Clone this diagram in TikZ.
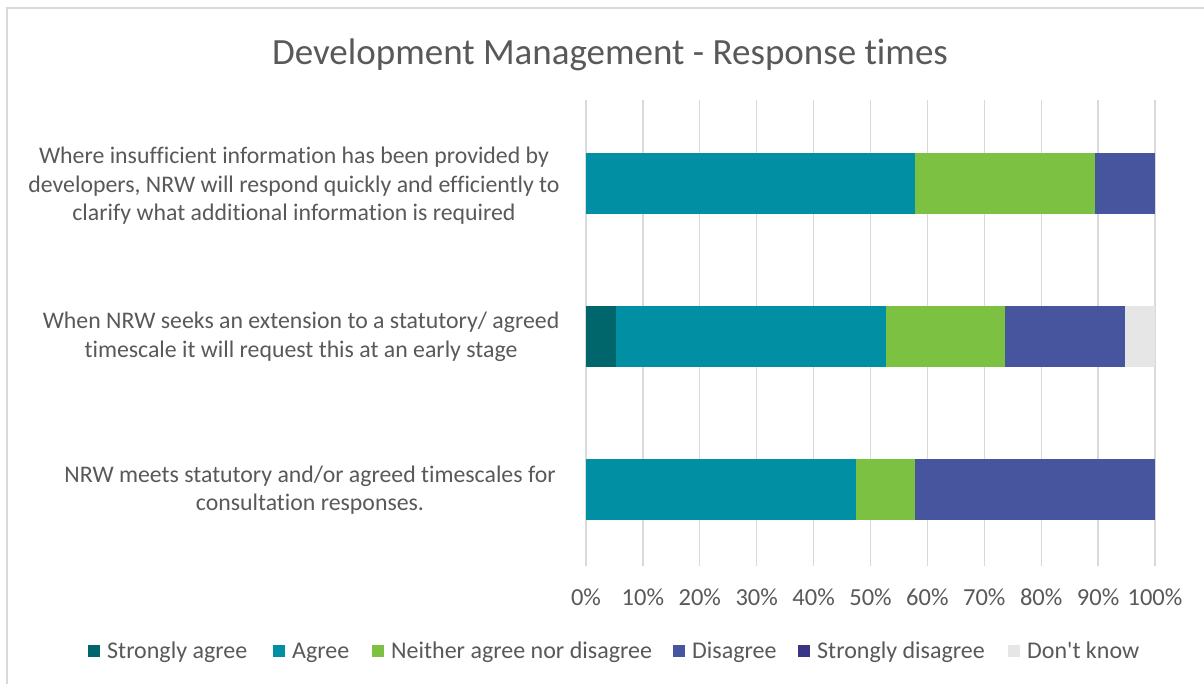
\documentclass[tikz,border=0pt]{standalone}
\usepackage{fontspec}
\defaultfontfeatures{}
\setmainfont{Carlito}[Ligatures=NoCommon]
\definecolor{txt}{HTML}{595959}
\definecolor{grid}{HTML}{D9D9D9}
\definecolor{sagree}{HTML}{00666B}
\definecolor{agree}{HTML}{008FA3}
\definecolor{neither}{HTML}{7DC142}
\definecolor{disagree}{HTML}{47559E}
\definecolor{sdisagree}{HTML}{3B3586}
\definecolor{dk}{HTML}{E6E6E6}
\tikzset{
  lbl/.style={text=txt,align=center,font=\fontsize{23.8}{28.5}\selectfont,inner sep=0pt},
  ax/.style={text=txt,font=\fontsize{24.5}{28}\selectfont,inner sep=0pt},
  leg/.style={text=txt,font=\fontsize{24}{28}\selectfont,inner sep=0pt,anchor=base west},
  gridline/.style={draw=grid,line width=1.3pt}
}
\begin{document}
\begin{tikzpicture}[x=1pt,y=-1pt]
\useasboundingbox (0,0) rectangle (1204,684);
\fill[white] (0,0) rectangle (1204,684);
% chart border
\draw[grid,line width=1.5pt] (7,684) -- (7,8) -- (1204,8);
% title
\node[text=txt,font=\fontsize{37}{42}\selectfont,inner sep=0pt] (title) at (610,55) {Development Management - Response times};
% gridlines
\foreach \i in {0,...,10}{
  \draw[gridline] ({586+56.9*\i},100) -- ({586+56.9*\i},566);
  \pgfmathtruncatemacro{\p}{\i*10}
  \node[ax] (t\i) at ({586+56.9*\i},597) {\p\%};
}
% bar 1
\fill[agree] (586,153) rectangle (915.4,214);
\fill[neither] (915.4,153) rectangle (1095.1,214);
\fill[disagree] (1095.1,153) rectangle (1155,214);
% bar 2
\fill[sagree] (586,306) rectangle (615.9,367);
\fill[agree] (615.9,306) rectangle (885.5,367);
\fill[neither] (885.5,306) rectangle (1005.3,367);
\fill[disagree] (1005.3,306) rectangle (1125.1,367);
\fill[dk] (1125.1,306) rectangle (1155,367);
% bar 3
\fill[agree] (586,459) rectangle (855.5,520);
\fill[neither] (855.5,459) rectangle (915.4,520);
\fill[disagree] (915.4,459) rectangle (1155,520);
% category labels
\node[lbl] (c1) at (294,186) {Where insufficient information has been provided by\\developers, NRW will respond quickly and efficiently to\\clarify what additional information is required};
\node[lbl] (c2) at (301,337) {When NRW seeks an extension to a statutory/ agreed\\timescale it will request this at an early stage};
\node[lbl] (c3) at (310,490) {NRW meets statutory and/or agreed timescales for\\consultation responses.};
% legend
\foreach \c/\x/\t [count=\k] in {sagree/88/Strongly agree, agree/273/Agree, neither/372/Neither agree nor disagree, disagree/673/Disagree, sdisagree/798/Strongly disagree, dk/1008/Don\textquotesingle t know}{
  \fill[\c] (\x,645) rectangle ({\x+12},657);
  \node[leg] (l\k) at ({\x+19},658.5) {\t};
}
\end{tikzpicture}
\end{document}
